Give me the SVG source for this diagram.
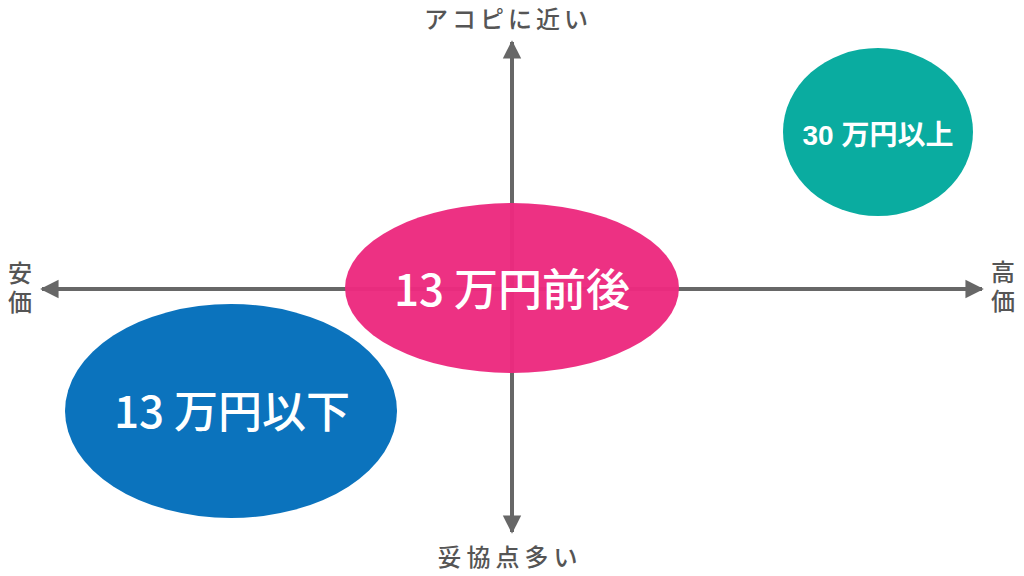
<svg xmlns="http://www.w3.org/2000/svg" width="1024" height="576" viewBox="0 0 1024 576">
<style>
.axis{stroke:#676767;stroke-width:4;fill:none}
.lbl{font-family:"Noto Sans CJK JP","Noto Sans",sans-serif;font-size:24px;fill:#555;font-weight:500}
.vl{writing-mode:vertical-rl;letter-spacing:5px}
.big{font-family:"Noto Sans CJK JP","Noto Sans",sans-serif;font-size:44px;fill:#fff;font-weight:500;text-anchor:middle}
.sm{font-family:"Liberation Sans","Noto Sans CJK JP",sans-serif;font-size:28px;fill:#fff;font-weight:bold;text-anchor:middle}
</style>
<defs>
<marker id="ah" viewBox="0 0 10 10" refX="9" refY="5" markerWidth="4.6" markerHeight="5" orient="auto" markerUnits="strokeWidth">
<path d="M0,0 L10,5 L0,10 Z" fill="#676767"/>
</marker>
</defs>
<rect width="1024" height="576" fill="#fff"/>
<g id="connectors">
<line class="axis" x1="512" y1="289" x2="512" y2="42" marker-end="url(#ah)"/>
<line class="axis" x1="512" y1="289" x2="512" y2="532" marker-end="url(#ah)"/>
<line class="axis" x1="512" y1="289" x2="42" y2="289" marker-end="url(#ah)"/>
<line class="axis" x1="512" y1="289" x2="982" y2="289" marker-end="url(#ah)"/>
</g>
<g id="label-top"><text class="lbl" x="508" y="28" text-anchor="middle" letter-spacing="4">アコピに近い</text></g>
<g id="label-bottom"><text class="lbl" x="510" y="566" text-anchor="middle" letter-spacing="5">妥協点多い</text></g>
<g id="label-left"><text class="lbl vl" x="20" y="261">安価</text></g>
<g id="label-right"><text class="lbl vl" x="1003" y="260">高価</text></g>
<g id="node-low">
<ellipse cx="231" cy="411" rx="166" ry="107" fill="#0B73BD"/>
<text class="big" x="232" y="428">13 万円以下</text>
</g>
<g id="node-mid">
<ellipse cx="512" cy="288" rx="167" ry="85" fill="#EC2A7F" fill-opacity="0.97"/>
<text class="big" x="512" y="306">13 万円前後</text>
</g>
<g id="node-high">
<ellipse cx="878" cy="132" rx="95" ry="84" fill="#0AACA0"/>
<text class="sm" x="878" y="145">30 万円以上</text>
</g>
</svg>
